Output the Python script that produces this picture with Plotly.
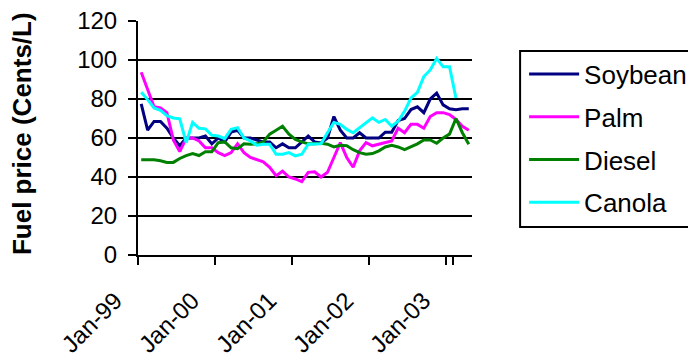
import plotly.graph_objects as go

month_names = ["Jan", "Feb", "Mar", "Apr", "May", "Jun", "Jul", "Aug", "Sep", "Oct", "Nov", "Dec"]
years = ["99", "00", "01", "02", "03"]
months = [f"{m}-{y}" for y in years for m in month_names][:52]
tick_labels = ["Jan-99", "Jan-00", "Jan-01", "Jan-02", "Jan-03"]

soybean = [77.5, 64, 68.5, 68.5, 65, 60, 56, 60, 60, 60, 61, 57,
           60, 58, 63, 64, 60, 60, 59, 58, 58, 55, 57, 55,
           55, 58, 61, 58, 57.5, 60, 71, 64, 60, 60, 62.7, 60,
           60, 60, 63, 63, 69, 70, 74.6, 76, 73, 80, 83, 77,
           75, 74.5, 75, 75]
palm = [93.7, 84.7, 76, 75.4, 73, 59, 53, 60, 60, 58.5, 55, 55,
        52.5, 51, 52.5, 57, 52.5, 50, 49, 47.8, 45, 40.7, 43, 40,
        39, 37.6, 42.4, 42.7, 40, 42.4, 50, 57.6, 50, 45, 53.4, 57.6,
        56, 56.8, 57.6, 58.5, 65, 62.7, 67, 67, 65, 71, 73, 73,
        72, 69.5, 66, 64]
diesel = [48.8, 48.8, 48.8, 48.3, 47.5, 47.5, 49.5, 51, 52, 51, 53, 53,
          57.6, 58, 55, 54.5, 57, 56.8, 57, 58, 62, 64, 66, 62,
          59.3, 58, 57, 57, 57.3, 56.8, 55.4, 56.3, 56, 54, 52.5, 51.7,
          52, 53.4, 55.4, 56.3, 55.4, 54, 55.4, 57, 59, 59, 57.3, 60,
          62, 70, 62.7, 56.8]
canola = [83.4, 79.7, 75.4, 74.2, 71.5, 70.3, 69.8, 57.6, 68, 65, 64.7, 61.4,
          61, 59.7, 64.4, 65.3, 60, 58.5, 56.3, 56.8, 56.8, 51.7, 51.7, 52.5,
          50.8, 51.7, 56.8, 57, 57, 62.7, 68, 67, 64.4, 62.7, 65.3, 68,
          70.3, 68, 69.5, 66, 68.6, 73.7, 80.5, 83.4, 91.5, 94.9, 100.8, 96.6,
          96.6, 80.5, None, None]

series = [("Soybean", soybean, "#000080"),
          ("Palm", palm, "#FF00FF"),
          ("Diesel", diesel, "#008000"),
          ("Canola", canola, "#00FFFF")]

FONT = "Arial, Liberation Sans, sans-serif"

fig = go.Figure()
for i, (name, vals, color) in enumerate(series):
    fig.add_trace(go.Scatter(x=months, y=vals, name=name, mode="lines",
                             line=dict(color=color, width=3),
                             legendgroup=f"g{i}", connectgaps=False))

# page body has an 8px margin, so the figure is sized to fit 696x362 exactly
fig.update_layout(
    width=688, height=354,
    margin=dict(l=130, r=224, t=13, b=107, autoexpand=False),
    paper_bgcolor="white", plot_bgcolor="white",
    font=dict(family=FONT, size=24, color="black"),
    showlegend=True,
    legend=dict(x=1.156, y=0.874, xanchor="left", yanchor="top",
                font=dict(size=26, family=FONT, color="black"),
                bgcolor="rgba(0,0,0,0)", borderwidth=0,
                tracegroupgap=6, itemwidth=50),
    xaxis=dict(type="category", range=[-0.5, 51.5], automargin=False,
               tickmode="array", tickvals=tick_labels, ticktext=tick_labels,
               tickson="boundaries", tickangle=-45,
               ticklabelstandoff=20, ticklabelshift=-26,
               ticklabeloverflow="allow",
               showline=True, linecolor="black", linewidth=2,
               ticks="outside", ticklen=8, tickwidth=2, tickcolor="black",
               showgrid=False, zeroline=False,
               tickfont=dict(size=24, family=FONT, color="black")),
    yaxis=dict(range=[0, 120], dtick=20, tick0=0, automargin=False,
               showline=True, linecolor="black", linewidth=2,
               ticks="outside", ticklen=8, tickwidth=2, tickcolor="black",
               ticklabelstandoff=6, ticklabeloverflow="allow",
               showgrid=True, gridcolor="black", gridwidth=2,
               zeroline=False,
               tickfont=dict(size=24, family=FONT, color="black")),
    shapes=[dict(type="rect", xref="paper", yref="paper",
                 x0=1.144, x1=1.9, y0=0.12, y1=0.872,
                 line=dict(color="black", width=2), fillcolor="rgba(0,0,0,0)")],
    annotations=[dict(text="<b>Fuel price (Cents/L)</b>", xref="paper", yref="paper",
                      x=-0.345, y=0.52, xanchor="center", yanchor="middle",
                      textangle=-90, showarrow=False,
                      font=dict(size=26, family=FONT, color="black"))],
)

fig.write_html("out.html")
